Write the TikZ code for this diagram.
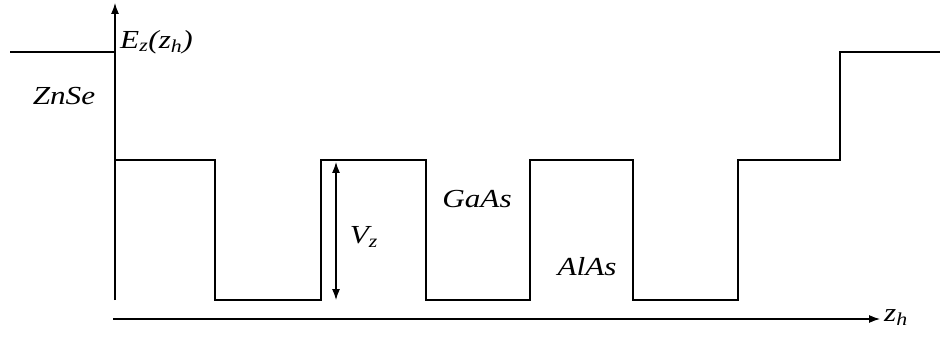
\documentclass[tikz,border=0pt]{standalone}
\usepackage{fontspec}
\setmainfont{Liberation Serif}
\usetikzlibrary{arrows.meta}
\begin{document}
\begin{tikzpicture}[x=1pt,y=-1pt,
  tip/.tip={Latex[length=11pt,width=8pt]},
  profile/.style={line width=2.2pt},
  axis/.style={line width=1.2pt,-tip},
  lbl/.style={font=\fontsize{26}{30}\selectfont\itshape,inner sep=0pt,xscale=1.2}]
\useasboundingbox (0,0) rectangle (940,339);
% axes
\coordinate (yb) at (115,300);
\coordinate (yt) at (115,3);
\coordinate (xl) at (113,319);
\coordinate (xr) at (880,319);
\draw[axis] (yb) -- (yt);
\draw[axis] (xl) -- (xr);
% conduction band profile
\draw[profile] (10,52) -- (115,52) -- (115,160) -- (215,160) -- (215,300) -- (321,300)
  -- (321,160) -- (426,160) -- (426,300) -- (530,300) -- (530,160) -- (633,160)
  -- (633,300) -- (738,300) -- (738,160) -- (840,160) -- (840,52) -- (940,52);
% barrier height
\coordinate (va) at (336,162);
\coordinate (vb) at (336,300);
\draw[line width=1.2pt,tip-tip] (va) -- (vb);
% labels
\node[lbl,anchor=west] (ez) at (120,42) {E\textsubscript{z}(z\textsubscript{h})};
\node[lbl] (znse) at (64,96) {ZnSe};
\node[lbl] (vz) at (364,237) {V\textsubscript{z}};
\node[lbl] (gaas) at (477,199) {GaAs};
\node[lbl] (alas) at (587,267) {AlAs};
\node[lbl,anchor=west] (zh) at (884,318) {z\textsubscript{h}};
\end{tikzpicture}
\end{document}
